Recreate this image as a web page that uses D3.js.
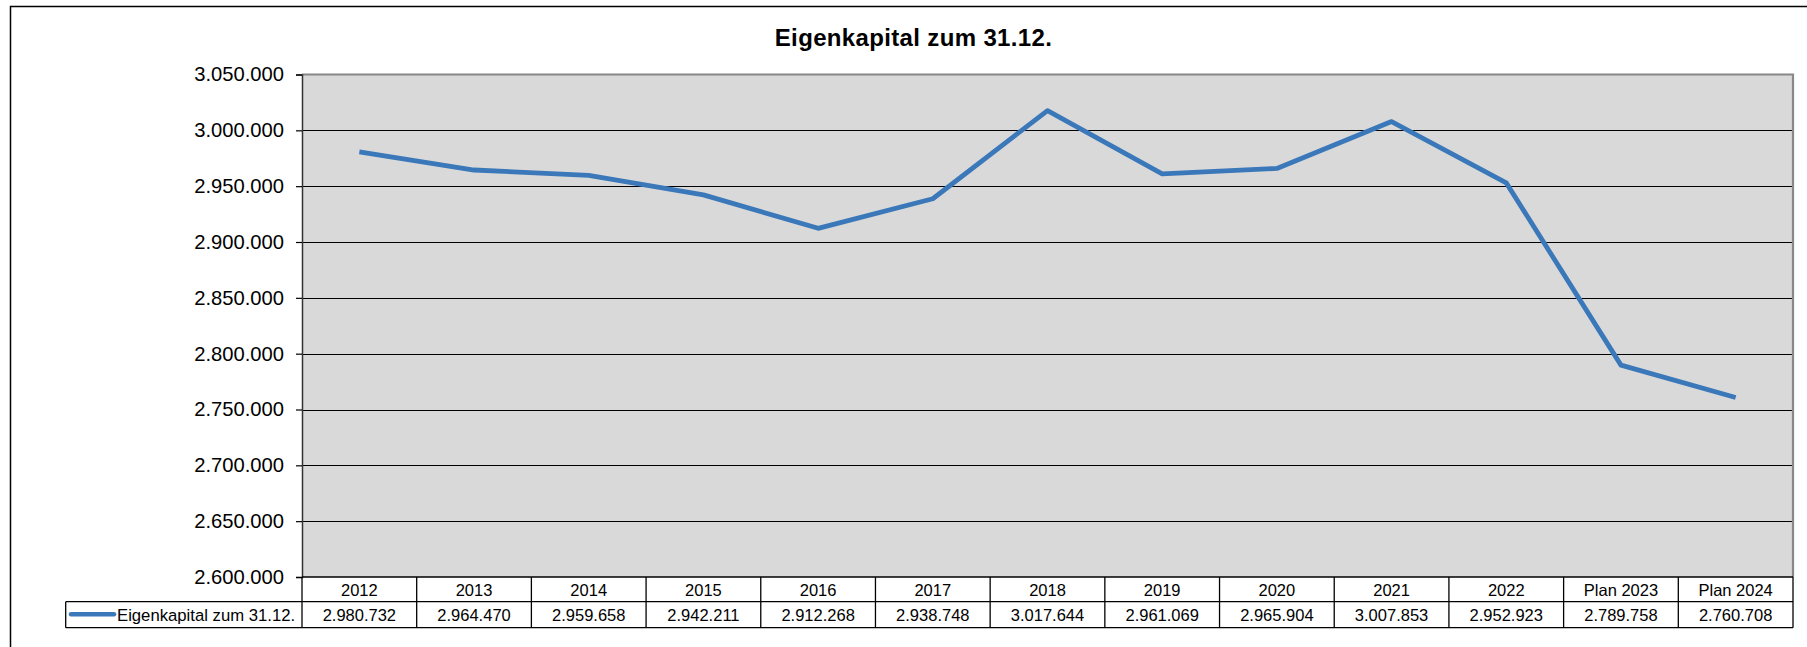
<!DOCTYPE html>
<html>
<head>
<meta charset="utf-8">
<script src="https://cdn.jsdelivr.net/npm/d3@7"></script>
<style>
  html, body { margin: 0; padding: 0; background: #fff; }
  svg { display: block; font-family: "Liberation Sans", Arial, sans-serif; }
</style>
</head>
<body>
<svg id="chart" width="1807" height="647"></svg>
<script>
const title = "Eigenkapital zum 31.12.";
const seriesName = "Eigenkapital zum 31.12.";
const categories = ["2012","2013","2014","2015","2016","2017","2018","2019","2020","2021","2022","Plan 2023","Plan 2024"];
const values = [2980732, 2964470, 2959658, 2942211, 2912268, 2938748, 3017644, 2961069, 2965904, 3007853, 2952923, 2789758, 2760708];
const yTicks = [2600000, 2650000, 2700000, 2750000, 2800000, 2850000, 2900000, 2950000, 3000000, 3050000];

const de = d3.formatLocale({decimal: ",", thousands: ".", grouping: [3], currency: ["", " €"]});
const fmt = de.format(",.0f");

const svg = d3.select("#chart");
const plot = {left: 302, right: 1793, top: 74.5, bottom: 577};
const row1Bottom = 601.7, row2Bottom = 627.7, legendLeft = 65.7;
const lineColor = "#3a78b9";

// outer frame (cropped at right/bottom)
svg.append("rect").attr("x", 10.5).attr("y", 6.5).attr("width", 1900).attr("height", 800)
  .attr("fill", "#fff").attr("stroke", "#000").attr("stroke-width", 1.5);

// title
svg.append("text").attr("x", 913.5).attr("y", 45.5).attr("text-anchor", "middle")
  .attr("font-size", 24).attr("font-weight", "bold").attr("letter-spacing", 0.35)
  .attr("fill", "#000").text(title);

const x = d3.scaleBand().domain(categories).range([plot.left, plot.right]).padding(0);
const y = d3.scaleLinear().domain([2600000, 3050000]).range([plot.bottom, plot.top]);

// plot background
svg.append("rect").attr("x", plot.left).attr("y", plot.top)
  .attr("width", plot.right - plot.left).attr("height", plot.bottom - plot.top)
  .attr("fill", "#d9d9d9");

// gridlines
svg.append("g").selectAll("line").data(yTicks.filter(t => t > 2600000 && t < 3050000)).join("line")
  .attr("x1", plot.left).attr("x2", plot.right)
  .attr("y1", d => Math.round(y(d)) + 0.5).attr("y2", d => Math.round(y(d)) + 0.5)
  .attr("stroke", "#000").attr("stroke-width", 1.2);

// plot border top/right gray
svg.append("path")
  .attr("d", `M${plot.left},${plot.top} H${plot.right} V${plot.bottom}`)
  .attr("fill", "none").attr("stroke", "#888").attr("stroke-width", 2.2);

// y axis
const yAxis = d3.axisLeft(y).tickValues(yTicks).tickFormat(fmt).tickSize(6).tickPadding(12);
const gy = svg.append("g").attr("transform", `translate(${plot.left},0)`).call(yAxis);
gy.select(".domain").attr("stroke", "#333").attr("stroke-width", 1.5);
gy.selectAll(".tick line").attr("stroke", "#000").attr("stroke-width", 1.2);
gy.selectAll(".tick text").attr("font-size", 20.2).attr("fill", "#000")
  .attr("font-family", "'Liberation Sans', Arial, sans-serif");

// line
const line = d3.line().x((d, i) => x(categories[i]) + x.bandwidth() / 2).y(d => y(d));
svg.append("path").datum(values).attr("d", line)
  .attr("fill", "none").attr("stroke", lineColor).attr("stroke-width", 4.8)
  .attr("stroke-linejoin", "round");

// data table
const tbl = svg.append("g").attr("stroke", "#000").attr("stroke-width", 1.3).attr("fill", "none");
tbl.append("line").attr("x1", plot.left).attr("x2", plot.right).attr("y1", plot.bottom).attr("y2", plot.bottom);
tbl.append("line").attr("x1", legendLeft).attr("x2", plot.right).attr("y1", row1Bottom).attr("y2", row1Bottom);
tbl.append("line").attr("x1", legendLeft).attr("x2", plot.right).attr("y1", row2Bottom).attr("y2", row2Bottom);
const edges = categories.map(c => x(c)).concat([plot.right]);
tbl.selectAll("line.v").data(edges).join("line").attr("class", "v")
  .attr("x1", d => d).attr("x2", d => d).attr("y1", plot.bottom).attr("y2", row2Bottom);
tbl.append("line").attr("x1", legendLeft).attr("x2", legendLeft).attr("y1", row1Bottom).attr("y2", row2Bottom);

// category labels
svg.append("g").selectAll("text").data(categories).join("text")
  .attr("x", d => x(d) + x.bandwidth() / 2).attr("y", 596)
  .attr("text-anchor", "middle").attr("font-size", 16.5).attr("fill", "#000").text(d => d);

// values
svg.append("g").selectAll("text").data(values).join("text")
  .attr("x", (d, i) => x(categories[i]) + x.bandwidth() / 2).attr("y", 621)
  .attr("text-anchor", "middle").attr("font-size", 16.5).attr("fill", "#000").text(d => fmt(d));

// legend key
svg.append("line").attr("x1", 71).attr("x2", 114).attr("y1", 614.3).attr("y2", 614.3)
  .attr("stroke", lineColor).attr("stroke-width", 4.5).attr("stroke-linecap", "round");
svg.append("text").attr("x", 117).attr("y", 621).attr("font-size", 16.7).attr("fill", "#000").text(seriesName);
</script>
</body>
</html>
